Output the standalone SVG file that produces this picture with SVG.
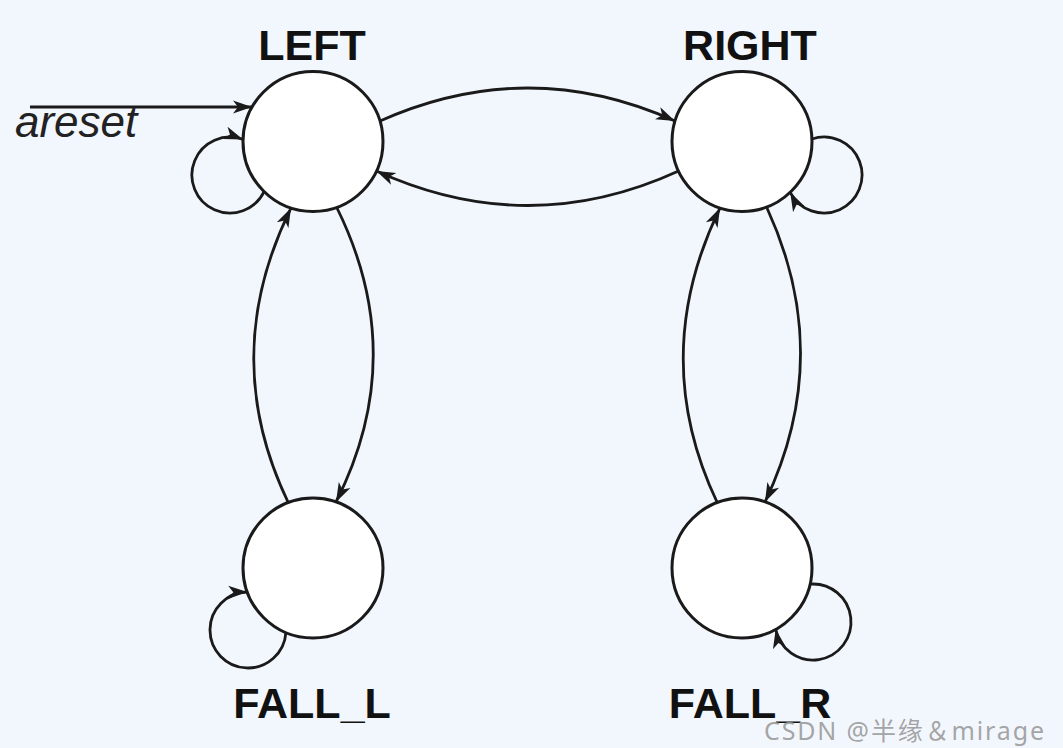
<svg xmlns="http://www.w3.org/2000/svg" width="1063" height="748" viewBox="0 0 1063 748">
<style>
.st{fill:#fff;stroke:#1a1a1a;stroke-width:3}
.lb{font-family:"Liberation Sans",Arial,sans-serif;font-weight:bold;font-size:43px;fill:#111;text-anchor:middle}
.e{fill:none;stroke:#1a1a1a;stroke-width:2.8;marker-end:url(#ah)}
</style>
<defs>
<marker id="ah" markerUnits="userSpaceOnUse" markerWidth="22" markerHeight="16" refX="19" refY="8" orient="auto">
<path d="M0,1.5 L19,8 L0,14.5 L5,8 Z" fill="#1a1a1a"/>
</marker>
</defs>
<rect width="1063" height="748" fill="#f2f6fd"/>
<g id="connectors">
<path class="e" d="M30,107 L252,107"/>
<path class="e" d="M264.1,191.6 A38,38 0 1 1 243.1,139.4"/>
<path class="e" d="M811.9,139 A38,38 0 1 1 790.2,192.3"/>
<path class="e" d="M285.9,632.6 A38,38 0 1 1 247.3,592"/>
<path class="e" d="M810.1,584.1 A38,38 0 1 1 775.7,629.3"/>
<path class="e" d="M380,121 Q528,55 675,121"/>
<path class="e" d="M678.6,171 Q528,240 376.4,171"/>
<path class="e" d="M337,208 Q410,356 336,502"/>
<path class="e" d="M288,502 Q218,356 291,208"/>
<path class="e" d="M767,208 Q835,356 765,502"/>
<path class="e" d="M717,502 Q648,356 720,208"/>
</g>
<g id="LEFT">
<circle class="st" cx="313" cy="141.5" r="70"/>
<text class="lb" x="312" y="60">LEFT</text>
</g>
<g id="RIGHT">
<circle class="st" cx="742" cy="141.5" r="70"/>
<text class="lb" x="750" y="60">RIGHT</text>
</g>
<g id="FALL_L">
<circle class="st" cx="313" cy="568" r="70"/>
<text class="lb" x="312" y="718">FALL_L</text>
</g>
<g id="FALL_R">
<circle class="st" cx="742" cy="568" r="70"/>
<text class="lb" x="750" y="718">FALL_R</text>
</g>
<text x="15" y="137" font-family="Liberation Sans, Arial, sans-serif" font-style="italic" font-size="44" fill="#222">areset</text>
<text x="764" y="740" font-family="Noto Sans, Noto Sans CJK SC, sans-serif" font-size="25" fill="#9a9a9a" fill-opacity="0.9" textLength="280">CSDN @半缘＆mirage</text>
</svg>
